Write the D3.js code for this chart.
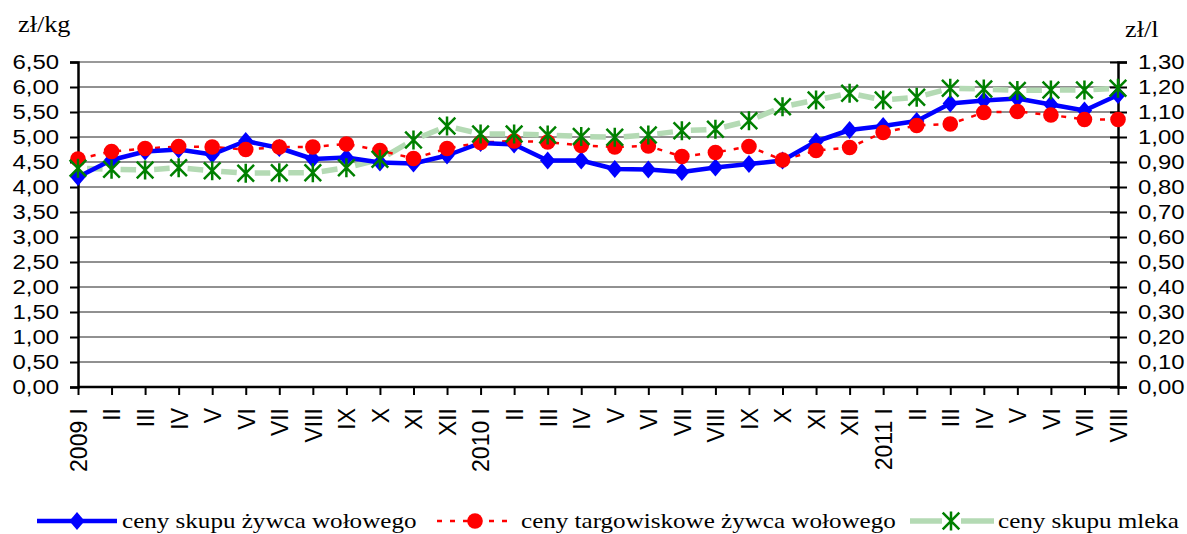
<!DOCTYPE html>
<html>
<head>
<meta charset="utf-8">
<script src="https://cdn.jsdelivr.net/npm/d3@7"></script>
<style>
  body { margin: 0; background: #fff; }
  .tick text { font-family: "Liberation Sans", Arial, sans-serif; font-size: 21px; fill: #000; }
  .unit, .legend text { font-family: "Liberation Serif", "Times New Roman", serif; fill: #000; }
</style>
</head>
<body>
<div id="chart"></div>
<script>
// Month labels (2009 I .. 2011 VIII)
const months = ['2009 I', 'II', 'III', 'IV', 'V', 'VI', 'VII', 'VIII', 'IX', 'X', 'XI', 'XII',
  '2010 I', 'II', 'III', 'IV', 'V', 'VI', 'VII', 'VIII', 'IX', 'X', 'XI', 'XII',
  '2011 I', 'II', 'III', 'IV', 'V', 'VI', 'VII', 'VIII'];

// zł/kg – left axis
const skupWolowy = [4.20, 4.54, 4.71, 4.75, 4.65, 4.92, 4.78, 4.56, 4.59, 4.49, 4.47, 4.63,
  4.88, 4.85, 4.53, 4.53, 4.36, 4.35, 4.30, 4.39, 4.46, 4.53, 4.91, 5.14,
  5.22, 5.32, 5.67, 5.73, 5.77, 5.65, 5.53, 5.84];
const targowiskowy = [4.56, 4.71, 4.77, 4.81, 4.80, 4.75, 4.80, 4.80, 4.86, 4.73, 4.57, 4.77,
  4.89, 4.92, 4.90, 4.83, 4.80, 4.82, 4.61, 4.69, 4.81, 4.54, 4.73, 4.79,
  5.09, 5.23, 5.26, 5.49, 5.51, 5.44, 5.35, 5.35];
// zł/l – right axis
const skupMleka = [0.875, 0.871, 0.868, 0.877, 0.865, 0.855, 0.857, 0.857, 0.877, 0.911, 0.988, 1.044,
  1.012, 1.012, 1.008, 1.002, 0.999, 1.008, 1.025, 1.031, 1.065, 1.121, 1.148, 1.175,
  1.148, 1.159, 1.195, 1.192, 1.186, 1.188, 1.188, 1.195];

const leftTicks = d3.range(0, 6.51, 0.5);
const rightTicks = d3.range(0, 1.31, 0.1);
const legendNames = ['ceny skupu żywca wołowego', 'ceny targowiskowe żywca wołowego', 'ceny skupu mleka'];

const W = 1187, H = 534;
const plotL = 78, plotR = 1118, plotT = 62, plotB = 387;
const sx = 1.14; // the picture's text is a little wide

const svg = d3.select('#chart').append('svg').attr('width', W).attr('height', H);

const x = d3.scalePoint().domain(d3.range(months.length)).range([plotL, plotR]);
const yL = d3.scaleLinear().domain([0, 6.5]).range([plotB, plotT]);
const yR = d3.scaleLinear().domain([0, 1.3]).range([plotB, plotT]);
const fmt = d => d3.format('.2f')(d).replace('.', ',');

// grid lines
svg.append('g')
  .selectAll('line')
  .data(leftTicks.slice(1))
  .join('line')
  .attr('x1', plotL).attr('x2', plotR)
  .attr('y1', d => yL(d)).attr('y2', d => yL(d))
  .attr('stroke', (d, i, a) => i === a.length - 1 ? '#999' : '#222')
  .attr('stroke-width', (d, i, a) => i === a.length - 1 ? 2 : 1);

// axes
const gL = svg.append('g').attr('transform', `translate(${plotL},0)`)
  .call(d3.axisLeft(yL).tickValues(leftTicks).tickFormat(fmt).tickSize(8));
gL.selectAll('.tick text').attr('x', -19 / sx).attr('transform', `scale(${sx},1)`);
const gR = svg.append('g').attr('transform', `translate(${plotR},0)`)
  .call(d3.axisRight(yR).tickValues(rightTicks).tickFormat(fmt).tickSize(9));
gR.selectAll('.tick line').attr('x1', -8);
gR.selectAll('.tick text').attr('x', 20 / sx).attr('transform', `scale(${sx},1)`);
const gX = svg.append('g').attr('transform', `translate(0,${plotB})`)
  .call(d3.axisBottom(x).tickFormat(i => months[i]).tickSize(8));
gX.selectAll('.tick text')
  .style('font-size', '23px')
  .attr('transform', 'rotate(-90) scale(1,1.04)')
  .attr('text-anchor', 'end')
  .attr('x', -21).attr('y', 0).attr('dy', '0.35em');
[gL, gR, gX].forEach(g => {
  g.select('.domain').attr('stroke', '#000').attr('stroke-width', 2.5);
  g.selectAll('.tick line').attr('stroke', '#000').attr('stroke-width', 2);
});
gX.select('.domain').attr('d', `M${plotL},0H${plotR}`);

// units
svg.append('text').attr('class', 'unit')
  .attr('transform', `translate(18,31.5) scale(${sx},1)`).attr('font-size', 23).text('zł/kg');
svg.append('text').attr('class', 'unit')
  .attr('transform', `translate(1125,37) scale(${sx},1)`).attr('font-size', 23).text('zł/l');

// segments with a gap round each marker
function gapSegments(vals, y, gap) {
  const segs = [];
  for (let i = 0; i < vals.length - 1; i++) {
    const x1 = x(i), y1 = y(vals[i]), x2 = x(i + 1), y2 = y(vals[i + 1]);
    const len = Math.hypot(x2 - x1, y2 - y1);
    const ux = (x2 - x1) / len, uy = (y2 - y1) / len;
    segs.push([x1 + ux * gap, y1 + uy * gap, x2 - ux * gap, y2 - uy * gap]);
  }
  return segs;
}

// milk - light green line with stars
svg.append('g').selectAll('line')
  .data(gapSegments(skupMleka, yR, 9))
  .join('line')
  .attr('x1', d => d[0]).attr('y1', d => d[1]).attr('x2', d => d[2]).attr('y2', d => d[3])
  .attr('stroke', '#b4dab4').attr('stroke-width', 5.5);

// market price - red dashed
svg.append('path')
  .datum(targowiskowy)
  .attr('fill', 'none')
  .attr('stroke', '#ff0000').attr('stroke-width', 2.5)
  .attr('stroke-dasharray', '5,8')
  .attr('d', d3.line().x((d, i) => x(i)).y(d => yL(d)));

// purchase price - blue
svg.append('path')
  .datum(skupWolowy)
  .attr('fill', 'none')
  .attr('stroke', '#0000ff').attr('stroke-width', 4.5)
  .attr('stroke-linejoin', 'round')
  .attr('d', d3.line().x((d, i) => x(i)).y(d => yL(d)));

const diamond = s => `M0,${-s}L${s * 0.85},0L0,${s}L${-s * 0.85},0Z`;
const star = s => `M${-s},${-s}L${s},${s}M${s},${-s}L${-s},${s}M0,${-s * 1.15}L0,${s * 1.15}`;

function drawDiamonds(g, pts) {
  g.selectAll('.dm').data(pts).join('path').attr('class', 'dm')
    .attr('transform', d => `translate(${d[0]},${d[1]})`)
    .attr('d', diamond(9)).attr('fill', '#0000ff');
}
function drawCircles(g, pts) {
  g.selectAll('.ci').data(pts).join('circle').attr('class', 'ci')
    .attr('cx', d => d[0]).attr('cy', d => d[1]).attr('r', 7.8).attr('fill', '#ff0000');
}
function drawStars(g, pts) {
  g.selectAll('.st').data(pts).join('path').attr('class', 'st')
    .attr('transform', d => `translate(${d[0]},${d[1]})`)
    .attr('d', star(8.3)).attr('stroke', '#008000').attr('stroke-width', 2.5).attr('fill', 'none');
}

drawDiamonds(svg.append('g'), skupWolowy.map((v, i) => [x(i), yL(v)]));
drawCircles(svg.append('g'), targowiskowy.map((v, i) => [x(i), yL(v)]));
drawStars(svg.append('g'), skupMleka.map((v, i) => [x(i), yR(v)]));

// legend
const lg = svg.append('g').attr('class', 'legend');
const ly = 521;
lg.append('line').attr('x1', 37).attr('x2', 117).attr('y1', ly).attr('y2', ly)
  .attr('stroke', '#0000ff').attr('stroke-width', 4.5);
drawDiamonds(lg, [[77, ly]]);
lg.append('line').attr('x1', 437).attr('x2', 513).attr('y1', ly).attr('y2', ly)
  .attr('stroke', '#ff0000').attr('stroke-width', 2.5).attr('stroke-dasharray', '5,8');
drawCircles(lg, [[475, ly]]);
lg.append('line').attr('x1', 910).attr('x2', 942).attr('y1', ly).attr('y2', ly)
  .attr('stroke', '#b4dab4').attr('stroke-width', 5.5);
lg.append('line').attr('x1', 961).attr('x2', 994).attr('y1', ly).attr('y2', ly)
  .attr('stroke', '#b4dab4').attr('stroke-width', 5.5);
drawStars(lg, [[951, ly]]);
lg.selectAll('text').data(legendNames).join('text')
  .attr('transform', (d, i) => `translate(${[122, 521, 998][i]},${ly + 7}) scale(${sx},1)`)
  .attr('font-size', 22)
  .text(d => d);
</script>
</body>
</html>
